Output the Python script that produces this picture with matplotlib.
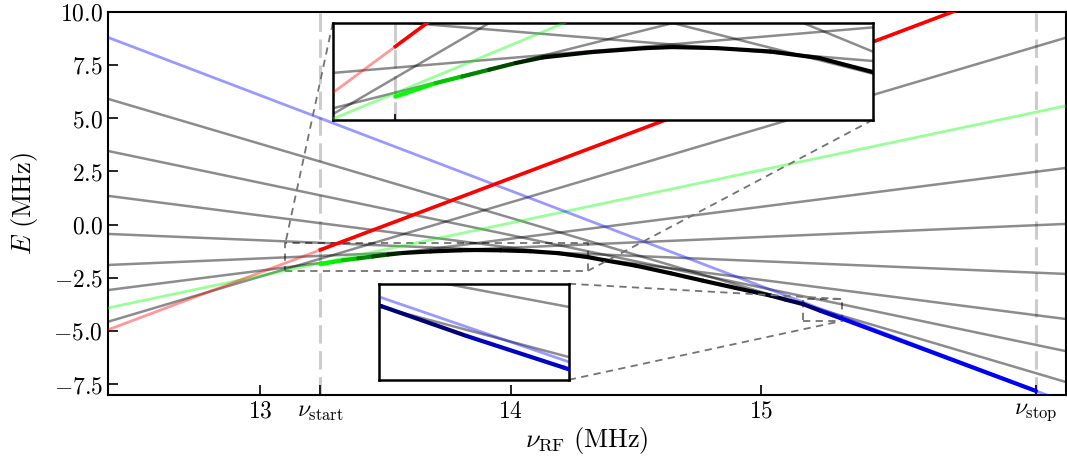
import numpy as np
import matplotlib
matplotlib.use("Agg")
import matplotlib.pyplot as plt
from matplotlib.collections import LineCollection
from mpl_toolkits.axes_grid1.inset_locator import mark_inset

plt.rcParams['mathtext.fontset'] = 'cm'
plt.rcParams['font.family'] = 'serif'
plt.rcParams['font.serif'] = ['DejaVu Serif']

nu_start = 13.24
nu_stop = 16.10
nu_edges = [12.39, 16.22]

# energies of the bare levels at the two plot edges (MHz)
grey_E = [
    [5.91, -7.40],
    [3.46, -5.95],
    [1.35, -4.44],
    [-0.44, -2.32],
    [-1.90, 0.03],
    [-3.08, 2.66],
    [-4.57, 8.78],
]
red_E = [-4.95, 12.0]
green_E = [-3.92, 5.58]
blue_E = [8.80, -8.35]

# followed eigenstate during the sweep
path_nu = [13.24, 13.29, 13.33, 13.39, 13.45, 13.51, 13.57, 13.68, 13.80, 13.86,
           13.96, 14.08, 14.19, 14.31, 14.37, 14.50, 14.64, 14.77, 14.90, 14.97,
           15.04, 15.10, 15.17, 15.24, 15.32, 16.10]
path_E = [-1.86, -1.76, -1.68, -1.59, -1.50, -1.41, -1.335, -1.263, -1.21, -1.196,
          -1.21, -1.255, -1.343, -1.531, -1.665, -1.93, -2.29, -2.64, -2.98, -3.16,
          -3.34, -3.53, -3.74, -4.06, -4.40, -7.82]
# overlap with the green / blue bare states
path_green = [1.0, 1.0, 0.9, 0.65, 0.4, 0.2, 0.08, 0, 0, 0,
              0, 0, 0, 0, 0, 0, 0, 0, 0, 0,
              0, 0, 0, 0, 0, 0]
path_blue = [0, 0, 0, 0, 0, 0, 0, 0, 0, 0,
             0, 0, 0, 0, 0, 0, 0, 0, 0, 0.05,
             0.1, 0.2, 0.35, 0.6, 0.9, 1.0]

xtick_pos = [13, nu_start, 14, 15, nu_stop]
xtick_lab = ['$13$', r'$\nu_{\rm start}$', '$14$', '$15$', r'$\nu_{\rm stop}$']
ytick_pos = [-7.5, -5.0, -2.5, 0.0, 2.5, 5.0, 7.5, 10.0]


def draw(ax):
    for e in grey_E:
        ax.plot(nu_edges, e, color='k', alpha=0.45, lw=1.8, zorder=2)
    ax.plot(nu_edges, green_E, color=(0, 1, 0), alpha=0.4, lw=2, zorder=3)
    ax.plot(nu_edges, blue_E, color=(0, 0, 1), alpha=0.4, lw=2, zorder=3)
    ax.plot(nu_edges, red_E, color=(1, 0, 0), alpha=0.4, lw=2, zorder=3)
    # red level inside the sweep window
    slope = (red_E[1] - red_E[0]) / (nu_edges[1] - nu_edges[0])
    r0 = red_E[0] + slope * (nu_start - nu_edges[0])
    r1 = red_E[0] + slope * (nu_stop - nu_edges[0])
    ax.plot([nu_start, nu_stop], [r0, r1], color=(1, 0, 0), lw=2.6, zorder=4)
    pts = np.column_stack([path_nu, path_E])
    segs = np.stack([pts[:-1], pts[1:]], axis=1)
    g = np.array(path_green)
    b = np.array(path_blue)
    cols = [(0, (g[i] + g[i + 1]) / 2, (b[i] + b[i + 1]) / 2) for i in range(len(segs))]
    lc = LineCollection(segs, colors=cols, linewidths=3, capstyle='round', zorder=5)
    ax.add_collection(lc)
    for nu in [nu_start, nu_stop]:
        ax.axvline(nu, color='0.8', lw=2.2, ls=(0, (6, 2.5)), zorder=1)


fig = plt.figure(figsize=(10.67, 4.7), dpi=100)
ax = fig.add_axes([0.101, 0.160, 0.898, 0.815])
draw(ax)
ax.set_xlim(nu_edges)
ax.set_ylim(-8.0, 10.0)
ax.set_xticks(xtick_pos)
ax.set_xticklabels(xtick_lab)
ax.set_yticks(ytick_pos)
ax.set_yticklabels(['$%.1f$' % v for v in ytick_pos])
ax.tick_params(direction='in', length=7, width=1.2, labelsize=17)
for s in ax.spines.values():
    s.set_linewidth(1.5)
ax.set_xlabel(r'$\nu_{\rm RF}\ ({\rm MHz})$', fontsize=19, labelpad=2)
ax.set_ylabel(r'$E\ ({\rm MHz})$', fontsize=19, labelpad=10)

ins1 = ax.inset_axes([0.2349, 0.718, 0.5637, 0.2533])
draw(ins1)
ins1.set_xlim(13.10, 14.31)
ins1.set_ylim(-2.17, -0.87)
ins1.set_xticks([nu_start])
ins1.set_xticklabels([''])
ins1.set_yticks([])
ins1.tick_params(direction='in', length=4, width=1.2)

ins2 = ax.inset_axes([0.2829, 0.0392, 0.1983, 0.2507])
draw(ins2)
ins2.set_xlim(15.168, 15.324)
ins2.set_ylim(-4.53, -3.50)
ins2.set_xticks([])
ins2.set_yticks([])

for ins in [ins1, ins2]:
    ins.set_zorder(10)
    for s in ins.spines.values():
        s.set_linewidth(1.8)

mark_inset(ax, ins1, loc1=2, loc2=4, fc='none', ec='0.45', ls=(0, (4, 3)), lw=1.3)
mark_inset(ax, ins2, loc1=1, loc2=4, fc='none', ec='0.45', ls=(0, (4, 3)), lw=1.3)

fig.savefig('out.png', dpi=100)
